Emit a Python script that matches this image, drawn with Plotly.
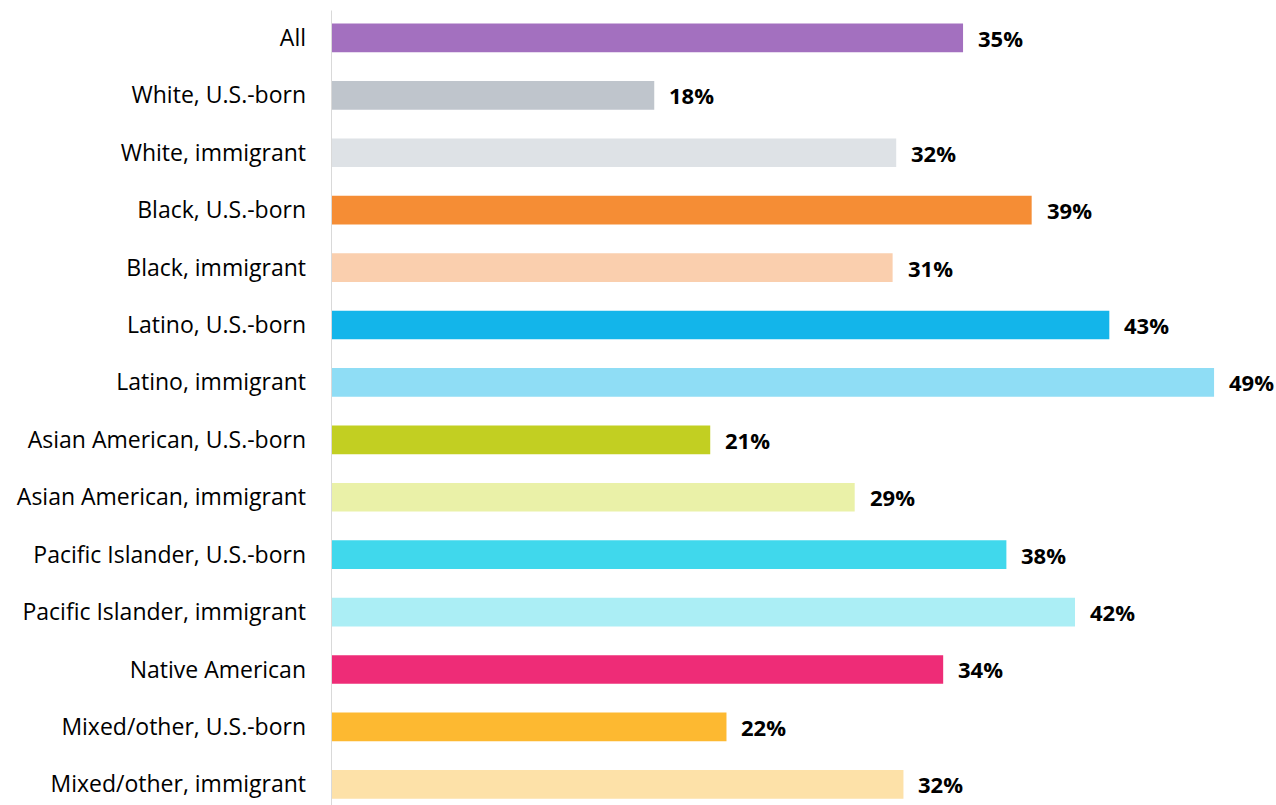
import plotly.graph_objects as go

categories = ["All", "White, U.S.-born", "White, immigrant", "Black, U.S.-born",
              "Black, immigrant", "Latino, U.S.-born", "Latino, immigrant",
              "Asian American, U.S.-born", "Asian American, immigrant",
              "Pacific Islander, U.S.-born", "Pacific Islander, immigrant",
              "Native American", "Mixed/other, U.S.-born", "Mixed/other, immigrant"]
# bar lengths as drawn in the reference
values = [35.0, 17.9, 31.3, 38.8, 31.1, 43.1, 48.9, 21.0, 29.0, 37.4, 41.2, 33.9, 21.9, 31.7]
# printed value labels
labels = ["35%", "18%", "32%", "39%", "31%", "43%", "49%", "21%", "29%", "38%",
          "42%", "34%", "22%", "32%"]
colors = ["#A370BF", "#BFC5CC", "#DEE2E6", "#F58D35", "#FACFAE", "#13B5EA", "#8FDDF5",
          "#C2CF22", "#EAF1A8", "#40D8EC", "#ABEEF5", "#EE2C77", "#FDB931", "#FDE1A8"]

FONT = "Open Sans, Liberation Sans, sans-serif"

fig = go.Figure(go.Bar(
    y=categories, x=values, orientation="h",
    marker=dict(color=colors, line=dict(width=0)),
    width=0.5, hoverinfo="skip",
))

for c, v, t in zip(categories, values, labels):
    fig.add_annotation(x=v, y=c, text=f"<b>{t}</b>", showarrow=False,
                       xanchor="left", yanchor="middle", xshift=13,
                       font=dict(family=FONT, size=22, color="#000000"))

fig.update_layout(
    width=1276, height=805,
    margin=dict(l=331, r=0, t=0, b=0),
    plot_bgcolor="white", paper_bgcolor="white",
    showlegend=False,
    xaxis=dict(range=[0, 52.33], visible=False, fixedrange=True),
    yaxis=dict(categoryorder="array", categoryarray=categories,
               range=[13.36, -0.66], showgrid=False, zeroline=False,
               showline=False, ticks="", ticklabelstandoff=24,
               tickfont=dict(family=FONT, size=23, color="#000000")),
    shapes=[dict(type="line", xref="x", yref="paper", x0=0, x1=0, y0=0, y1=0.987,
                 line=dict(color="#D9D9D9", width=2))],
)

fig.write_html("out.html", config={"displayModeBar": False},
               post_script="document.body.style.margin='0px';")
